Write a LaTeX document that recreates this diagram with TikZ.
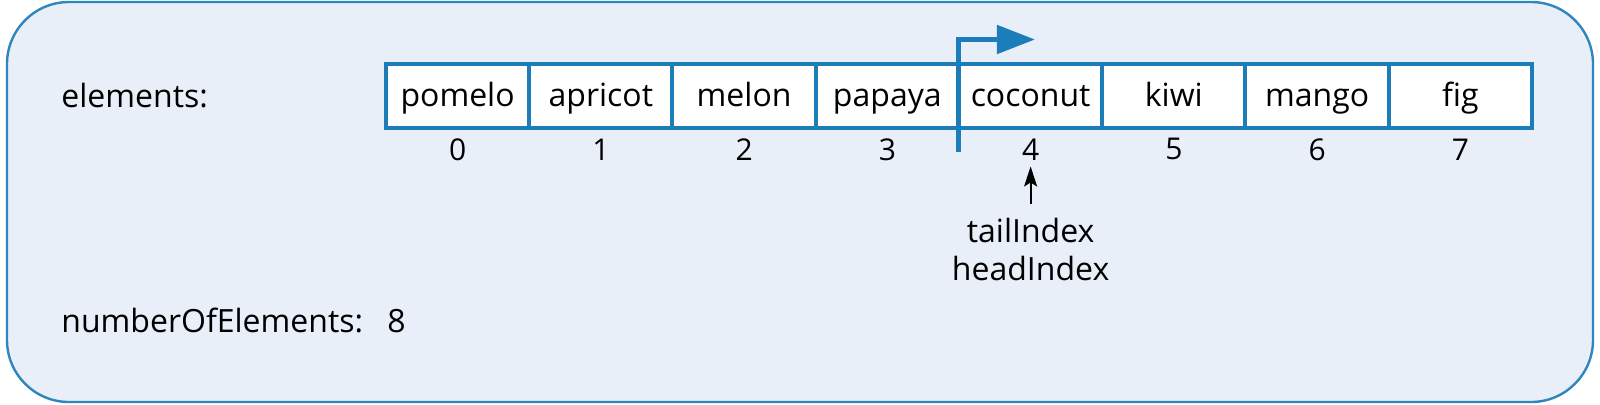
\documentclass[tikz,border=0pt]{standalone}
\usepackage{fontspec}
\setmainfont{Open Sans}
\usepackage{tikz}
\usetikzlibrary{positioning,arrows.meta}
\definecolor{kehys}{HTML}{2E86BE}
\definecolor{tausta}{HTML}{E9EFF8}
\definecolor{sininen}{HTML}{1B7DB9}

\begin{document}
\begin{tikzpicture} [node distance=71.625pt,
                    solu/.style={rectangle,draw=sininen,fill=white,line width=2pt,minimum width=71.625pt,minimum height=32pt,
                                 inner sep=0pt,outer sep=0pt,text height=10pt,text depth=0pt,font=\fontsize{16}{19}\selectfont},
                    nro/.style={inner sep=0pt,font=\fontsize{15}{18}\selectfont},
                    teksti/.style={inner sep=0pt,font=\fontsize{16}{19}\selectfont}]

\useasboundingbox (0,0) rectangle (800pt,202pt);
\draw[kehys,fill=tausta,line width=1.2pt,rounded corners=31pt] (3.5pt,1pt) rectangle (796.5pt,201pt);

\node[teksti,anchor=base west] (T) at (30.5pt,148.5pt) {elements:};
\node[teksti,anchor=base west] (L) at (30.5pt,36pt) {numberOfElements:};
\node[teksti,anchor=base west] (L1) at (193.5pt,36pt) {8};

\node[solu] (C0) at (228.8pt,154pt) {pomelo};
\node[solu] (C1) [right of=C0] {apricot};
\node[solu] (C2) [right of=C1] {melon};
\node[solu] (C3) [right of=C2] {papaya};
\node[solu] (C4) [right of=C3] {coconut};
\node[solu] (C5) [right of=C4] {kiwi};
\node[solu] (C6) [right of=C5] {mango};
\node[solu] (C7) [right of=C6] {fig};

\node[nro,node distance=26.65pt] (I0) [below of=C0] {0};
\node[nro,node distance=26.65pt] (I1) [below of=C1] {1};
\node[nro,node distance=26.65pt] (I2) [below of=C2] {2};
\node[nro,node distance=26.65pt] (I3) [below of=C3] {3};
\node[nro,node distance=26.65pt] (I4) [below of=C4] {4};
\node[nro,node distance=26.65pt] (I5) [below of=C5] {5};
\node[nro,node distance=26.65pt] (I6) [below of=C6] {6};
\node[nro,node distance=26.65pt] (I7) [below of=C7] {7};

\node[teksti,align=center,node distance=50.25pt] (P) [below of=I4] {tailIndex\\headIndex};

\coordinate[below=12pt of C4.south west] (P0);
\coordinate[above right=12.25pt and 38pt of C4.north west] (P1);

\draw[sininen,line width=2.5pt,-{Triangle[length=19pt,width=14pt]}] (P0) |- (P1);
\draw[line width=1pt,-{Stealth[length=10pt,width=6.5pt,inset=2pt]},shorten <=6.85pt,shorten >=3pt] (P) -- (I4);
\end{tikzpicture}
\end{document}
